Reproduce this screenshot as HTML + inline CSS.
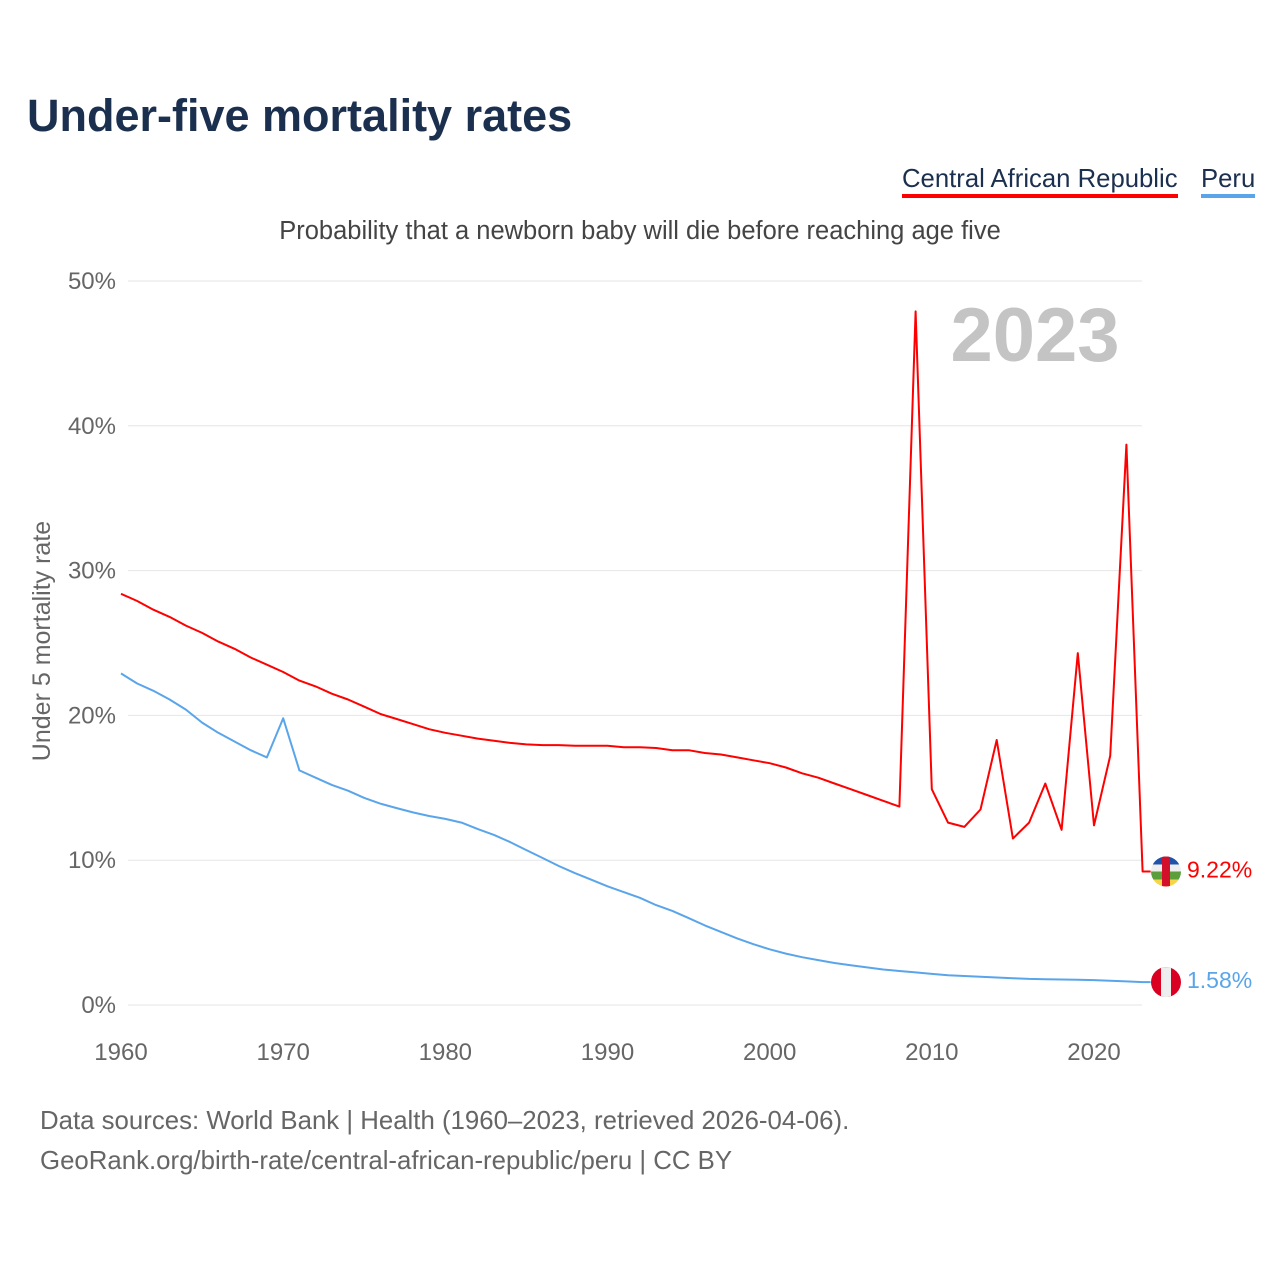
<!DOCTYPE html>
<html><head><meta charset="utf-8"><style>
body{margin:0;background:#fff;font-family:"Liberation Sans",sans-serif;}
#wrap{position:relative;width:1280px;height:1280px;overflow:hidden;}
.t{position:absolute;white-space:nowrap;}
</style></head><body>
<div id="wrap">
<div class="t" style="left:27px;top:90px;font-size:45px;font-weight:bold;color:#1b2f4e;">Under-five mortality rates</div>
<div class="t" style="left:902px;top:164px;font-size:25.7px;color:#1b2f4e;border-bottom:4px solid #ff0000;line-height:30px;">Central African Republic</div>
<div class="t" style="left:1201px;top:164px;font-size:25.7px;color:#1b2f4e;border-bottom:4px solid #5aa5ea;line-height:30px;">Peru</div>
<div class="t" style="left:0;width:1280px;text-align:center;top:217px;font-size:25.5px;color:#444;">Probability that a newborn baby will die before reaching age five</div>
<svg id="chart" width="1280" height="1280" style="position:absolute;left:0;top:0;"></svg>
<div class="t" style="left:40px;top:1107px;font-size:25.8px;color:#666;">Data sources: World Bank | Health (1960–2023, retrieved 2026-04-06).</div>
<div class="t" style="left:40px;top:1147px;font-size:25.8px;color:#666;">GeoRank.org/birth-rate/central-african-republic/peru | CC BY</div>
</div>
<script>
const startYear = 1960;
const carValues = [28.4,27.9,27.3,26.8,26.2,25.7,25.1,24.6,24.0,23.5,23.0,22.4,22.0,21.5,21.1,20.6,20.1,19.75,19.4,19.05,18.8,18.6,18.4,18.25,18.1,18.0,17.95,17.95,17.9,17.9,17.9,17.8,17.8,17.75,17.6,17.6,17.4,17.3,17.1,16.9,16.7,16.4,16.0,15.7,15.3,14.9,14.5,14.1,13.7,47.9,14.9,12.6,12.3,13.5,18.3,11.5,12.6,15.3,12.1,24.3,12.4,17.2,38.7,9.22];
const peruValues = [22.9,22.2,21.7,21.1,20.4,19.5,18.8,18.2,17.6,17.1,19.8,16.2,15.7,15.2,14.8,14.3,13.9,13.6,13.3,13.05,12.85,12.6,12.15,11.75,11.25,10.7,10.15,9.6,9.1,8.65,8.2,7.8,7.4,6.9,6.5,6.0,5.5,5.05,4.6,4.2,3.85,3.55,3.3,3.1,2.9,2.75,2.6,2.45,2.35,2.25,2.15,2.05,2.0,1.95,1.9,1.85,1.8,1.78,1.76,1.75,1.72,1.68,1.63,1.58];
const yTicks = [0,10,20,30,40,50];
const xTicks = [1960,1970,1980,1990,2000,2010,2020];
const NS='http://www.w3.org/2000/svg';
const svg=document.getElementById('chart');
const X=y=>121+(y-1960)*(973/60);
const Y=v=>1005-v*(724/50);
function mk(tag,attrs){const e=document.createElementNS(NS,tag);for(const k in attrs)e.setAttribute(k,attrs[k]);svg.appendChild(e);return e;}
yTicks.forEach(v=>{
  const g=mk('line',{x1:128,x2:1142,y1:Y(v),y2:Y(v),stroke:'#e6e6e6','stroke-width':1});
  
  
  const t=mk('text',{x:116,y:Y(v)+8,'text-anchor':'end','font-size':24,fill:'#666','font-family':'Liberation Sans'});
  t.textContent=v+'%';
  
  
});
xTicks.forEach(v=>{
  const t=mk('text',{x:X(v),y:1060,'text-anchor':'middle','font-size':24,fill:'#666','font-family':'Liberation Sans'});
  t.textContent=v;
  
  
});
const yt=mk('text',{x:0,y:0,transform:'translate(50,641) rotate(-90)','text-anchor':'middle','font-size':25,fill:'#666','font-family':'Liberation Sans'});
yt.textContent='Under 5 mortality rate';


const yr=mk('text',{x:1035,y:361,'text-anchor':'middle','font-size':76,'font-weight':'bold',fill:'#c4c4c4','font-family':'Liberation Sans'});
yr.textContent='2023';


function series(vals,color,name){
  const d=vals.map((v,i)=>(i?'L':'M')+X(startYear+i).toFixed(1)+','+Y(v).toFixed(1)).join(' ');
  const last=vals[vals.length-1];
  const p=mk('path',{d:d+' L'+(X(startYear+vals.length-1)+8)+','+Y(last).toFixed(1),fill:'none',stroke:color,'stroke-width':2,'stroke-linejoin':'round'});
  
  
  const t=mk('text',{x:1187,y:Y(last)+6,'font-size':23,fill:color,'font-family':'Liberation Sans'});
  t.textContent=last.toFixed(2)+'%';
  
  
  return Y(last);
}
const cy=series(carValues,'#ff0000','car');
const py=series(peruValues,'#5aa5ea','peru');
const cf=document.createElementNS(NS,'g');svg.appendChild(cf);
cf.innerHTML=`<defs><clipPath id="c1"><circle cx="1166" cy="${cy}" r="15"/></clipPath><clipPath id="c2"><circle cx="1166" cy="${py}" r="15"/></clipPath></defs>
<g clip-path="url(#c1)"><rect x="1150" y="${cy-15}" width="32" height="8" fill="#1f52a8"/><rect x="1150" y="${cy-7}" width="32" height="7" fill="#eee"/><rect x="1150" y="${cy}" width="32" height="8" fill="#5b9e3a"/><rect x="1150" y="${cy+8}" width="32" height="8" fill="#f7d548"/><rect x="1162" y="${cy-15}" width="8" height="30" fill="#d2102a"/></g>
<g clip-path="url(#c2)"><rect x="1150" y="${py-15}" width="32" height="30" fill="#d90022"/><rect x="1161" y="${py-15}" width="10" height="30" fill="#eee"/></g>`;
</script>
</body></html>
